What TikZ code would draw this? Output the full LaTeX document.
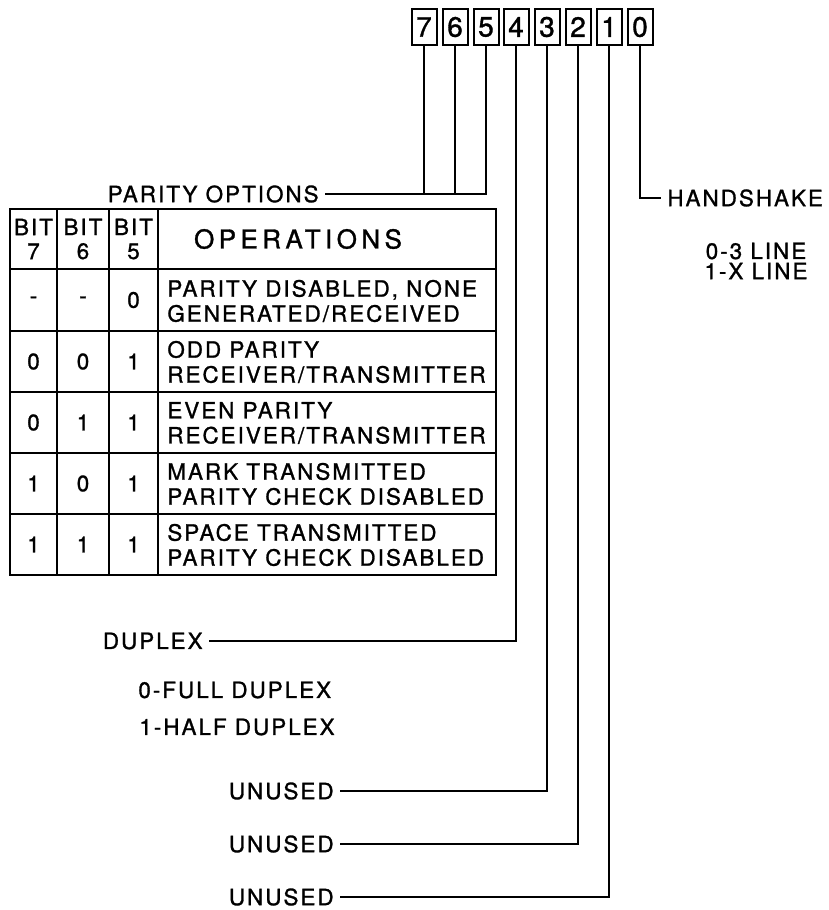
\documentclass[tikz,border=0pt]{standalone}
\usepackage{fontspec}
\setmainfont{TeX Gyre Heros}[LetterSpace=9,FakeBold=1.2]
\newfontfamily\headfont{TeX Gyre Heros}[LetterSpace=17,FakeBold=1.2]

\newcommand*{\tblleft}{10}
\newcommand*{\tblright}{496}
\newcommand*{\tbltop}{209}
\newcommand*{\tblbot}{575}

\begin{document}
\begin{tikzpicture}
[
	x=0.5pt, y=-0.5pt,
	bitbox/.style={draw,line width=1pt,minimum width=12.5pt,minimum height=18pt,inner sep=0pt,font=\fontsize{14}{14}\selectfont},
	lbl/.style={inner sep=3pt,font=\fontsize{11.2}{12.5}\selectfont},
	cell/.style={inner sep=0pt,align=center,font=\fontsize{11.2}{12}\selectfont},
	optext/.style={inner sep=0pt,anchor=west,align=left,font=\fontsize{11.2}{12.5}\selectfont},
	wire/.style={line width=1.3pt},
	grid/.style={line width=1pt}
]
	\useasboundingbox (0,0) rectangle (829,910);

	% bit boxes
	\node[bitbox] at (424,27) (b7) {7};
	\node[bitbox] at (455,27) (b6) {6};
	\node[bitbox] at (486,27) (b5) {5};
	\node[bitbox] at (516,27) (b4) {4};
	\node[bitbox] at (547,27) (b3) {3};
	\node[bitbox] at (578,27) (b2) {2};
	\node[bitbox] at (609,27) (b1) {1};
	\node[bitbox] at (640,27) (b0) {0};

	% labels
	\node[lbl,anchor=east] at (325,194) (par) {PARITY OPTIONS};
	\node[lbl,anchor=west] at (661,198) (hs) {HANDSHAKE};
	\node[lbl] at (756,251) (hs0) {0-3 LINE};
	\node[lbl] at (756,271) (hs1) {1-X LINE};
	\node[lbl,anchor=east] at (209,641) (dup) {DUPLEX};
	\node[lbl,anchor=west] at (132,690) (dup0) {0-FULL DUPLEX};
	\node[lbl,anchor=west] at (133,727) (dup1) {1-HALF DUPLEX};
	\node[lbl,anchor=east] at (340,791) (un3) {UNUSED};
	\node[lbl,anchor=east] at (340,844) (un2) {UNUSED};
	\node[lbl,anchor=east] at (340,897) (un1) {UNUSED};

	% connectors
	\draw[wire] (b7.south) -- (b7.south |- par.east);
	\draw[wire] (b6.south) -- (b6.south |- par.east);
	\draw[wire] (par.east) -| (b5.south);
	\draw[wire] (dup.east) -| (b4.south);
	\draw[wire] (un3.east) -| (b3.south);
	\draw[wire] (un2.east) -| (b2.south);
	\draw[wire] (un1.east) -| (b1.south);
	\draw[wire] (b0.south) |- (hs.west);

	% table
	\draw[grid] (\tblleft,\tbltop) rectangle (\tblright,\tblbot);
	\draw[grid] (\tblleft,269) -- (\tblright,269);
	\draw[grid] (\tblleft,331) -- (\tblright,331);
	\draw[grid] (\tblleft,392) -- (\tblright,392);
	\draw[grid] (\tblleft,453) -- (\tblright,453);
	\draw[grid] (\tblleft,514) -- (\tblright,514);
	\draw[grid] (57,\tbltop) -- (57,\tblbot);
	\draw[grid] (109,\tbltop) -- (109,\tblbot);
	\draw[grid] (158,\tbltop) -- (158,\tblbot);

	% table header
	\node[cell] at (33.5,239) (h7) {BIT\\7};
	\node[cell] at (83,239) (h6) {BIT\\6};
	\node[cell] at (133.5,239) (h5) {BIT\\5};
	\node[cell,font=\fontsize{13}{13}\headfont] at (298,239) (hop) {OPERATIONS};

	% table rows
	\node[cell] at (33.5,300) (r1a) {-};
	\node[cell] at (83,300) (r1b) {-};
	\node[cell] at (133.5,300) (r1c) {0};
	\node[optext] at (167,301) (r1op) {PARITY DISABLED, NONE\\GENERATED/RECEIVED};

	\node[cell] at (33.5,361.5) (r2a) {0};
	\node[cell] at (83,361.5) (r2b) {0};
	\node[cell] at (133.5,361.5) (r2c) {1};
	\node[optext] at (167,362) (r2op) {ODD PARITY\\RECEIVER/TRANSMITTER};

	\node[cell] at (33.5,422.5) (r3a) {0};
	\node[cell] at (83,422.5) (r3b) {1};
	\node[cell] at (133.5,422.5) (r3c) {1};
	\node[optext] at (167,423) (r3op) {EVEN PARITY\\RECEIVER/TRANSMITTER};

	\node[cell] at (33.5,483.5) (r4a) {1};
	\node[cell] at (83,483.5) (r4b) {0};
	\node[cell] at (133.5,483.5) (r4c) {1};
	\node[optext] at (167,484) (r4op) {MARK TRANSMITTED\\PARITY CHECK DISABLED};

	\node[cell] at (33.5,544.5) (r5a) {1};
	\node[cell] at (83,544.5) (r5b) {1};
	\node[cell] at (133.5,544.5) (r5c) {1};
	\node[optext] at (167,545) (r5op) {SPACE TRANSMITTED\\PARITY CHECK DISABLED};

\end{tikzpicture}
\end{document}
